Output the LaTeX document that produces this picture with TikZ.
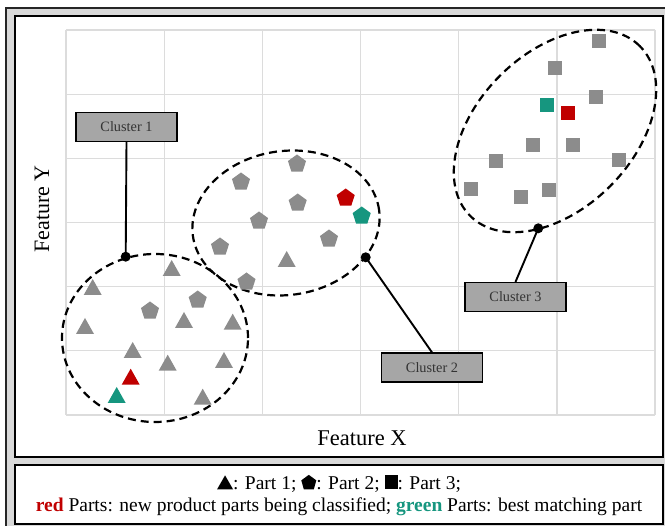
\documentclass[tikz,border=0pt]{standalone}
\usepackage{fontspec}
\setmainfont{Liberation Serif}
\definecolor{frameg}{HTML}{D9D9D9}
\definecolor{gridg}{HTML}{DCDCDC}
\definecolor{markg}{HTML}{8C8C8C}
\definecolor{boxg}{HTML}{A6A6A6}
\definecolor{newred}{HTML}{C00000}
\definecolor{bestgreen}{HTML}{16967F}
\definecolor{labtext}{HTML}{333333}
\begin{document}
\begin{tikzpicture}[x=1pt,y=-1pt,
  gridline/.style={draw=gridg,line width=1.3pt},
  clusterline/.style={draw=black,line width=2.2pt,dash pattern=on 8pt off 5pt},
  panel/.style={draw=black,line width=1.4pt,fill=white},
  clusterbox/.style={draw=black,line width=1.2pt,fill=boxg,minimum width=101pt,minimum height=29pt,inner sep=0pt,font=\fontsize{14.3}{16}\selectfont,text=labtext},
  connector/.style={draw=black,line width=1.9pt},
  anchordot/.style={fill=black},
  tri/.pic={\fill[pic actions] (0,-8) -- (9,8) -- (-9,8) -- cycle;},
  pent/.pic={\fill[pic actions] (-90:9.5) -- (-162:9.5) -- (-234:9.5) -- (-306:9.5) -- (-18:9.5) -- cycle;},
  sq/.pic={\fill[pic actions] (-7,-7) rectangle (7,7);},
]
\useasboundingbox (0,0) rectangle (665,526);
% outer frame
\fill[frameg] (6,8) rectangle (680,540);
\draw[black!85,line width=1.4pt] (6,540) -- (6,8) -- (680,8);
\draw[panel] (15,16) rectangle (663,457);
\draw[panel] (15,465) rectangle (663,524);
% grid
\foreach \i in {0,...,6} {
  \draw[gridline] ({66+\i*98.17},30) -- ({66+\i*98.17},415);
  \draw[gridline] (66,{30+\i*64.17}) -- (655,{30+\i*64.17});
}
% axis titles
\node[font=\fontsize{22.5}{26}\selectfont] (fx) at (362,438) {Feature X};
\node[font=\fontsize{22}{26}\selectfont,rotate=90] (fy) at (42,209) {Feature Y};
% cluster ellipses
\draw[clusterline] (155,338) ellipse [x radius=93pt, y radius=84pt];
\draw[clusterline,rotate around={8:(286,223)}] (286,223) ellipse [x radius=94pt, y radius=72pt];
\draw[clusterline,rotate around={45:(555,131)}] (555,131) ellipse [x radius=120pt, y radius=78pt];
% Part 1 (triangles)
\foreach \p in {(92.7,287),(171.7,268),(85,326),(184,320),(232.7,321.7),(132.7,350),(167.7,362.7),(224,360),(202.7,396.7),(286.7,259)}
  \pic[markg] at \p {tri};
\pic[newred] at (130.7,376.7) {tri};
\pic[bestgreen] at (116.7,395) {tri};
% Part 2 (pentagons)
\foreach \p in {(150,311),(197.7,300),(246.5,282),(220,247),(297,164),(241,182),(297.7,203),(259,221),(329,239)}
  \pic[markg] at \p {pent};
\pic[newred] at (345.7,198) {pent};
\pic[bestgreen] at (361.7,216) {pent};
% Part 3 (squares)
\foreach \p in {(598.7,41),(555,67.7),(595.7,97.3),(533.3,145),(573.3,145.3),(496,160.7),(619.3,160),(470.7,189),(549.3,190),(520.7,196.7)}
  \pic[markg] at \p {sq};
\pic[newred] at (568,113) {sq};
\pic[bestgreen] at (546.7,105) {sq};
% cluster labels
\node[clusterbox] (c1) at (126.5,127) {Cluster 1};
\node[clusterbox] (c2) at (432,367.5) {Cluster 2};
\node[clusterbox] (c3) at (515.5,297) {Cluster 3};
\coordinate (d1) at (125.7,256.7);
\coordinate (d2) at (365.7,257.3);
\coordinate (d3) at (538.3,228.3);
\draw[connector] (c1.south) -- (d1);
\draw[connector] (d2) -- (c2.north);
\draw[connector] (d3) -- (c3.north);
\fill[anchordot] (d1) circle (5pt);
\fill[anchordot] (d2) circle (5pt);
\fill[anchordot] (d3) circle (5pt);
% legend
\node[font=\fontsize{19.5}{22.5}\selectfont,align=center] (legend) at (339,495.5) {%
\tikz[x=1pt,y=1pt,baseline=0pt]\fill (0,0) -- (16,0) -- (8,14) -- cycle;: Part 1; %
\tikz[x=1pt,y=1pt,baseline=0pt]\fill (7.5,14.5) -- (15,9) -- (12.5,0) -- (2.5,0) -- (0,9) -- cycle;: Part 2; %
\tikz[x=1pt,y=1pt,baseline=0pt]\fill (0,0) rectangle (13,14);: Part 3;\\
\textbf{\textcolor{newred}{red}} Parts: new product parts being classified; \textbf{\textcolor{bestgreen}{green}} Parts: best matching part};
\end{tikzpicture}
\end{document}
